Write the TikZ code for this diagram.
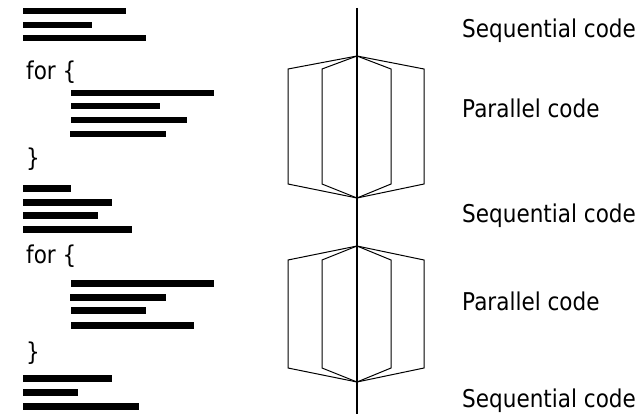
\documentclass[tikz,border=0pt]{standalone}
\usepackage{fontspec}
\setmainfont{DejaVu Sans}[FakeStretch=0.88]
\begin{document}
\begin{tikzpicture}[x=1pt,y=-1pt,
  codebar/.style={fill=black},
  label/.style={anchor=base west,inner sep=0pt,font=\fontsize{24.5}{29}\selectfont},
  code/.style={anchor=base west,inner sep=0pt,font=\fontsize{24.5}{29}\selectfont},
  outline/.style={draw=black,line width=1pt,line join=miter},
  axis/.style={draw=black,line width=1.1pt}]
\useasboundingbox (0,0) rectangle (644,414);

% code lines drawn as black bars: left, right, top
\foreach \l/\r/\t in {23/126/8, 23/92/22, 23/146/35,
                      71/214/90, 71/160/103, 71/187/117, 70/166/131,
                      23/71/185, 23/112/199, 23/98/212, 23/132/226,
                      71/214/280, 70/166/294, 71/146/307, 71/194/322,
                      23/112/375, 23/78/389, 23/139/403}
  \fill[codebar] (\l,\t) rectangle (\r,\t+6.5);

% loop keywords
\node[code] (for1) at (26,80) {for \{};
\node[code] (end1) at (26,167) {\}};
\node[code] (for2) at (26,263) {for \{};
\node[code] (end2) at (26,360) {\}};

% timeline
\coordinate (top) at (357,8);
\coordinate (bottom) at (357,414);
\draw[axis] (top) -- (bottom);

% fork/join shapes of the two parallel regions
\foreach \n/\a/\u/\d/\b in {1/56/69/184/198, 2/246/260/368/382} {
  \coordinate (fork\n) at (357,\a);
  \coordinate (join\n) at (357,\b);
  \coordinate (olt\n) at (288,\u);
  \coordinate (olb\n) at (288,\d);
  \coordinate (ort\n) at (424,\u);
  \coordinate (orb\n) at (424,\d);
  \coordinate (ilt\n) at (322,\u);
  \coordinate (ilb\n) at (322,\d);
  \coordinate (irt\n) at (391,\u);
  \coordinate (irb\n) at (391,\d);
  \draw[outline] (fork\n) -- (olt\n) -- (olb\n) -- (join\n) -- (orb\n) -- (ort\n) -- cycle;
  \draw[outline] (fork\n) -- (ilt\n) -- (ilb\n) -- (join\n) -- (irb\n) -- (irt\n) -- cycle;
}

% region labels
\node[label] (seq1) at (462,38) {Sequential code};
\node[label] (par1) at (462,118) {Parallel code};
\node[label] (seq2) at (462,222) {Sequential code};
\node[label] (par2) at (462,310) {Parallel code};
\node[label] (seq3) at (462,407.5) {Sequential code};
\end{tikzpicture}
\end{document}
